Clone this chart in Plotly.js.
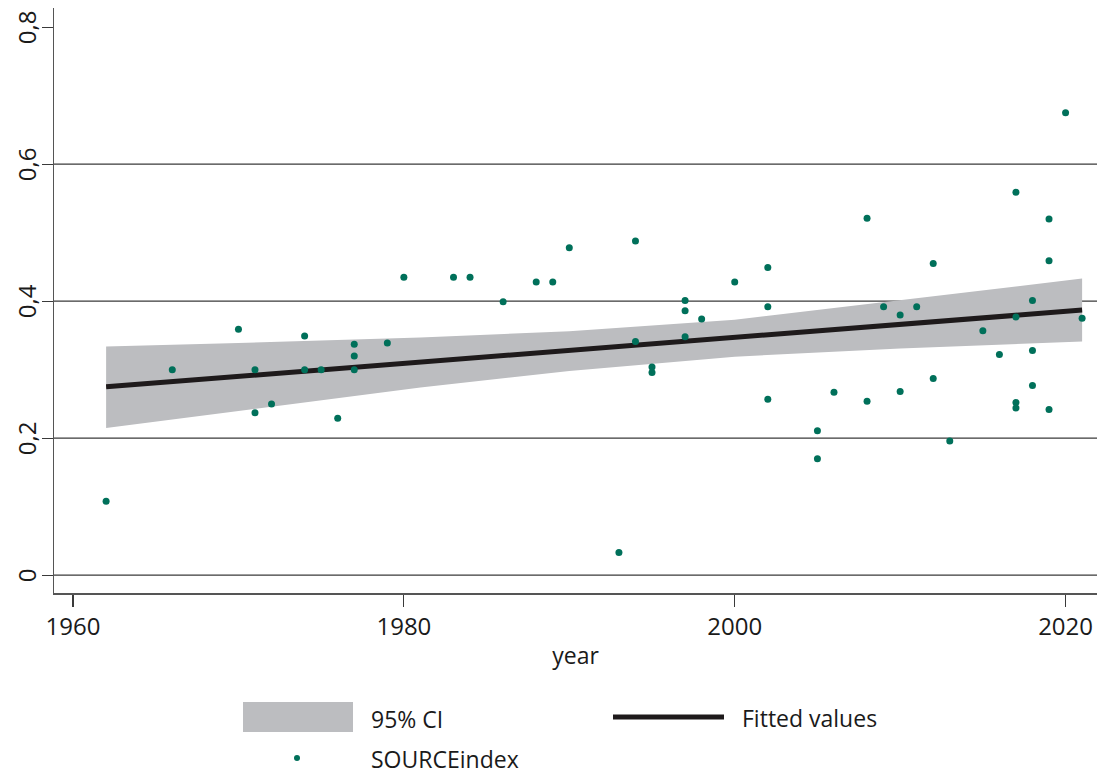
<!DOCTYPE html>
<html>
<head>
<meta charset="utf-8">
<script src="https://cdn.plot.ly/plotly-3.0.1.min.js"></script>
<style>
  html, body { margin: 0; padding: 0; background: #ffffff; }
  #chart { width: 1097px; height: 774px; }
</style>
</head>
<body>
<div id="chart"></div>
<script>
// ---- Data ----
const years = [
  1962, 1966, 1970, 1971, 1971, 1972, 1974, 1974, 1975, 1976,
  1977, 1977, 1977, 1979, 1980, 1983, 1984, 1986, 1988, 1989,
  1990, 1993, 1994, 1994, 1995, 1995, 1997, 1997, 1997, 1998,
  2000, 2002, 2002, 2002, 2005, 2005, 2006, 2008, 2008, 2009,
  2010, 2010, 2011, 2012, 2012, 2013, 2015, 2016, 2017, 2017,
  2017, 2017, 2018, 2018, 2018, 2019, 2019, 2019, 2020, 2021
];
const sourceIndex = [
  0.108, 0.300, 0.359, 0.300, 0.237, 0.250, 0.349, 0.300, 0.300, 0.229,
  0.337, 0.320, 0.300, 0.339, 0.435, 0.435, 0.435, 0.399, 0.428, 0.428,
  0.478, 0.033, 0.488, 0.341, 0.304, 0.296, 0.401, 0.386, 0.348, 0.374,
  0.428, 0.449, 0.392, 0.257, 0.211, 0.170, 0.267, 0.521, 0.254, 0.392,
  0.380, 0.268, 0.392, 0.455, 0.287, 0.196, 0.357, 0.322, 0.559, 0.377,
  0.252, 0.244, 0.401, 0.328, 0.277, 0.520, 0.459, 0.242, 0.675, 0.375
];

const fitYears = [1962, 2021];
const fitValues = [0.275, 0.387];

const ciYears = [1962, 1970, 1981, 1990, 2000, 2010, 2021];
const ciUpper = [0.334, 0.339, 0.347, 0.356, 0.373, 0.402, 0.433];
const ciLower = [0.215, 0.240, 0.274, 0.298, 0.319, 0.331, 0.341];

const xTickVals = [1960, 1980, 2000, 2020];
const yTickVals = [0, 0.2, 0.4, 0.6, 0.8];
const yTickText = ['0', '0,2', '0,4', '0,6', '0,8'];
const gridVals = [0, 0.2, 0.4, 0.6];

const legendLabels = ['95% CI', 'Fitted values', 'SOURCEindex'];

// ---- Styles ----
const FONT = '"Open Sans", "Noto Sans", sans-serif';
const TXT = '#1a1a1a';
const BAND = 'rgb(188,189,192)';
const DOT = 'rgb(0,112,90)';
const LINE = '#1e1a1b';
const AXIS = '#555555';
const GRID = '#3a3a3a';

const bandX = ciYears.concat(ciYears.slice().reverse());
const bandY = ciUpper.concat(ciLower.slice().reverse());

const traces = [
  {
    type: 'scatter', mode: 'lines', x: bandX, y: bandY,
    fill: 'toself', fillcolor: BAND, line: { width: 0, color: BAND },
    hoverinfo: 'skip', showlegend: false
  },
  {
    type: 'scatter', mode: 'lines', x: fitYears, y: fitValues,
    line: { color: LINE, width: 5 }, showlegend: false
  },
  {
    type: 'scatter', mode: 'markers', x: years, y: sourceIndex,
    marker: { color: DOT, size: 7 }, showlegend: false
  }
];

// plot area in pixels: x 54..1097, y 8..593
const PL = 54, PR = 1097, PT = 8, PB = 593;
const px = v => (v - PL) / (PR - PL);
const py = v => (PB - v) / (PB - PT);

const shapes = gridVals.map(g => ({
  type: 'line', xref: 'paper', yref: 'y', x0: 0, x1: 1, y0: g, y1: g,
  line: { color: GRID, width: 1.2 }, layer: 'below'
}));

// legend drawing
shapes.push({
  type: 'rect', xref: 'paper', yref: 'paper',
  x0: px(243), x1: px(353), y0: py(732), y1: py(702),
  fillcolor: BAND, line: { width: 0 }
});
shapes.push({
  type: 'line', xref: 'paper', yref: 'paper',
  x0: px(613), x1: px(724), y0: py(717), y1: py(717),
  line: { color: LINE, width: 5 }
});
shapes.push({
  type: 'circle', xref: 'paper', yref: 'paper',
  x0: px(294), x1: px(300), y0: py(761), y1: py(755),
  fillcolor: DOT, line: { width: 0 }
});

const annotations = [
  { text: legendLabels[0], x: px(369), y: py(719) },
  { text: legendLabels[1], x: px(740), y: py(718) },
  { text: legendLabels[2], x: px(369), y: py(759) }
].map(a => Object.assign({
  xref: 'paper', yref: 'paper', xanchor: 'left', yanchor: 'middle',
  showarrow: false, font: { family: FONT, size: 23, color: TXT }
}, a));

// rotated y tick labels
yTickVals.forEach((v, i) => {
  annotations.push({
    text: yTickText[i], xref: 'paper', yref: 'y', x: px(26), y: v,
    xanchor: 'center', yanchor: 'middle', textangle: -90,
    showarrow: false, font: { family: FONT, size: 24, color: TXT }
  });
});

const layout = {
  width: 1097, height: 774,
  margin: { l: PL, r: 1097 - PR, t: PT, b: 774 - PB, pad: 0 },
  paper_bgcolor: '#ffffff', plot_bgcolor: '#ffffff',
  showlegend: false,
  font: { family: FONT, size: 23, color: TXT },
  xaxis: {
    range: [1958.85, 2021.9],
    tickmode: 'array', tickvals: xTickVals,
    ticks: 'outside', ticklen: 12, tickwidth: 1.2, tickcolor: GRID,
    showline: true, linecolor: AXIS, linewidth: 1.5,
    showgrid: false, zeroline: false,
    tickfont: { family: FONT, size: 24, color: TXT },
    title: { text: 'year', font: { family: FONT, size: 23, color: TXT }, standoff: 6 }
  },
  yaxis: {
    range: [-0.026, 0.828],
    tickmode: 'array', tickvals: yTickVals,
    showticklabels: false,
    ticks: 'outside', ticklen: 11, tickwidth: 1.2, tickcolor: GRID,
    showline: true, linecolor: AXIS, linewidth: 1.5,
    showgrid: false, zeroline: false
  },
  shapes: shapes,
  annotations: annotations
};

Plotly.newPlot('chart', traces, layout, { displayModeBar: false, staticPlot: true });
</script>
</body>
</html>
